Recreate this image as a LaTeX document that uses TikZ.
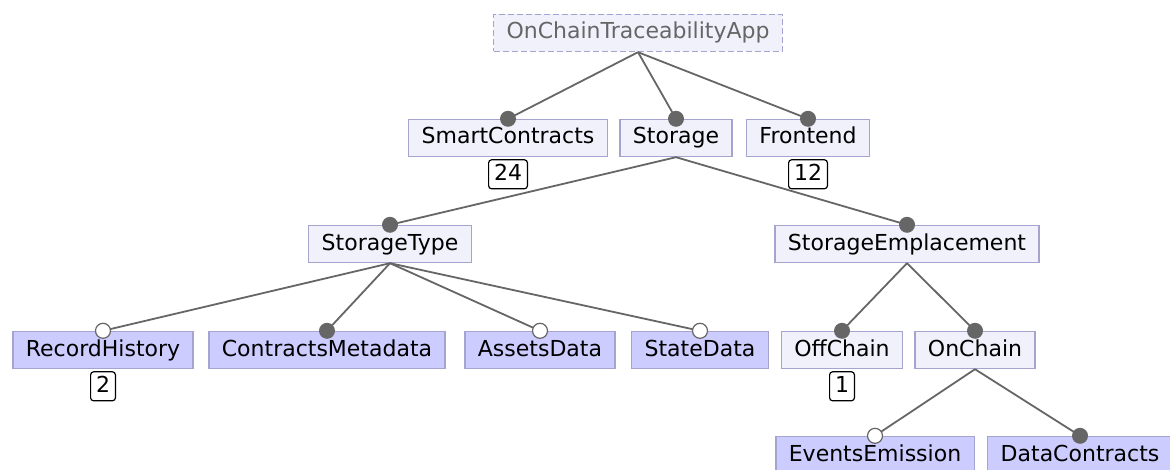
\documentclass[tikz,border=0pt]{standalone}
\usepackage{fontspec}
\setmainfont{DejaVu Sans}
\usepackage{xcolor}
\usepackage{tikz}
\usetikzlibrary{positioning}
\definecolor{abstrfill}{HTML}{F1F1FC}
\definecolor{concfill}{HTML}{CCCCFF}
\definecolor{featline}{HTML}{A4A4CF}
\definecolor{edgegray}{HTML}{666666}

\begin{document}
\begin{tikzpicture}[x=0.5pt,y=-0.5pt,
    feat/.style={draw=featline,line width=0.7pt,font=\fontsize{11}{13}\selectfont,
                 text height=8.5pt,text depth=2.5pt,
                 minimum height=18.5pt,inner xsep=6.5pt,inner ysep=0pt},
    abstr/.style={feat,fill=abstrfill},
    conc/.style={feat,fill=concfill},
    rootf/.style={abstr,dash pattern=on 3pt off 1.5pt,text=edgegray},
    cnt/.style={draw=black,fill=white,rounded corners=1.5pt,line width=0.6pt,
                font=\fontsize{11}{13}\selectfont,text height=8.5pt,text depth=2.5pt,
                minimum height=14.5pt,inner xsep=2.7pt,inner ysep=0pt},
    edge/.style={draw=edgegray,line width=0.9pt},
    mand/.style={circle,fill=edgegray,inner sep=0pt,minimum size=8pt},
    opt/.style={circle,draw=edgegray,fill=white,line width=0.6pt,inner sep=0pt,minimum size=7.5pt}]
  \useasboundingbox (0,0) rectangle (1170,470);
  % features
  \node[rootf] (app) at (638,33) {OnChainTraceabilityApp};
  \node[abstr] (smart) at (508,138) {SmartContracts};
  \node[abstr] (storage) at (676,138) {Storage};
  \node[abstr] (front) at (808,138) {Frontend};
  \node[abstr] (stype) at (390,244) {StorageType};
  \node[abstr] (semp) at (907,244) {StorageEmplacement};
  \node[conc] (record) at (103,350) {RecordHistory};
  \node[conc] (cmeta) at (327,350) {ContractsMetadata};
  \node[conc] (assets) at (540,350) {AssetsData};
  \node[conc] (state) at (700,350) {StateData};
  \node[abstr,minimum width=60pt] (off) at (842,350) {OffChain};
  \node[abstr,minimum width=60pt] (on) at (975,350) {OnChain};
  \node[conc] (events) at (875,455) {EventsEmission};
  \node[conc] (datac) at (1080,455) {DataContracts};
  % counts
  \node[cnt,below=1pt of smart] (nsmart) {24};
  \node[cnt,below=1pt of front] (nfront) {12};
  \node[cnt,below=1pt of record] (nrecord) {2};
  \node[cnt,below=1pt of off] (noff) {1};
  % edges
  \foreach \p/\c/\k in {app/smart/mand, app/storage/mand, app/front/mand,
                        storage/stype/mand, storage/semp/mand,
                        stype/record/opt, stype/cmeta/mand, stype/assets/opt, stype/state/opt,
                        semp/off/mand, semp/on/mand,
                        on/events/opt, on/datac/mand}
    \draw[edge] (\p.south) -- (\c.north) node[\k] {};
\end{tikzpicture}
\end{document}
